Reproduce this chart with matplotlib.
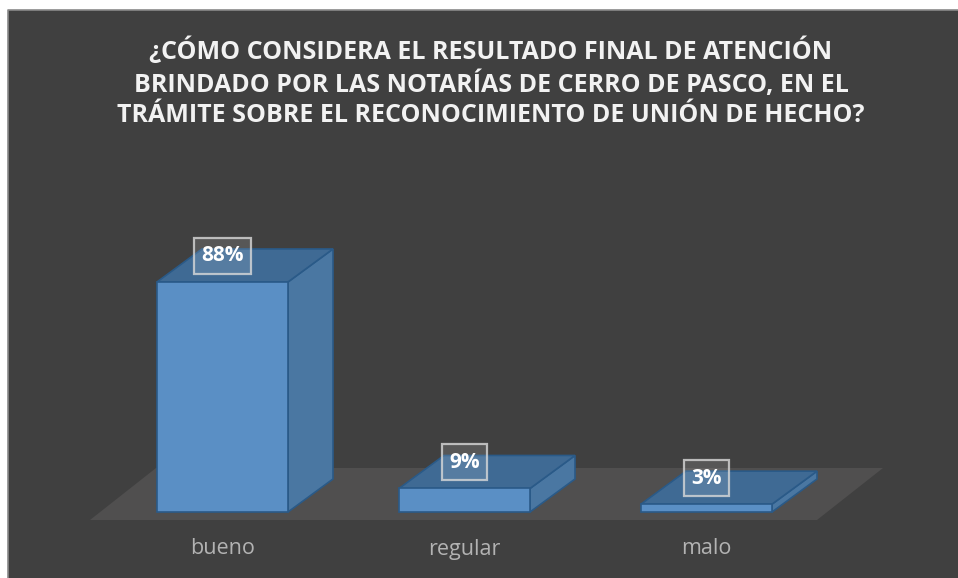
import matplotlib
matplotlib.use("Agg")
import matplotlib.pyplot as plt
from matplotlib.patches import Polygon, Rectangle

categories = ["bueno", "regular", "malo"]
values = [88, 9, 3]
labels = ["88%", "9%", "3%"]
title = ("¿CÓMO CONSIDERA EL RESULTADO FINAL DE ATENCIÓN\n"
         "BRINDADO POR LAS NOTARÍAS DE CERRO DE PASCO, EN EL\n"
         "TRÁMITE SOBRE EL RECONOCIMIENTO DE UNIÓN DE HECHO?")

W, H = 958, 578
fig = plt.figure(figsize=(W / 100, H / 100), dpi=100)
fig.patch.set_facecolor("white")
ax = fig.add_axes([0, 0, 1, 1])
ax.set_facecolor("white")

# scale: x in category units (242 px each), y in percent (2.614 px each)
px_x, px_y = 242.0, 2.614
x0_px, y0_px = 222.5, 512.0  # pixel of (0, 0)
ax.set_xlim(-x0_px / px_x, (W - x0_px) / px_x)
ax.set_ylim(-(H - y0_px) / px_y, y0_px / px_y)
ax.axis("off")

# background panel (border only on left and top, as in the cropped original)
bl, bt = 8 / W, 1 - 10 / H
bg = Rectangle((bl, 0), 1.2 - bl, bt + 0.0, transform=ax.transAxes,
               facecolor="#404040", edgecolor="none", zorder=0, clip_on=False)
ax.add_patch(bg)
ax.plot([bl, bl, 1.0], [0, bt, bt], transform=ax.transAxes, color="#8a8a8a",
        lw=1.2, zorder=0.5, clip_on=False)

# floor
fdx, fdy = 66 / px_x, 52 / px_y
fy = -8 / px_y
fxl, fxr = (90 - x0_px) / px_x, (817 - x0_px) / px_x
floor = Polygon([(fxl, fy), (fxr, fy), (fxr + fdx, fy + fdy), (fxl + fdx, fy + fdy)],
                closed=True, facecolor="#504f4f", edgecolor="none", zorder=1)
ax.add_patch(floor)

# bars
hw = 131 / 2 / px_x
ddx, ddy = 45 / px_x, 33 / px_y
front_c, side_c, top_c, edge_c = "#5a8fc5", "#4a77a2", "#3f6a94", "#2a5a88"
for i, v in enumerate(values):
    xl, xr = i - hw, i + hw
    side = Polygon([(xr, 0), (xr + ddx, ddy), (xr + ddx, v + ddy), (xr, v)],
                   closed=True, facecolor=side_c, edgecolor=edge_c, lw=1.2, zorder=2)
    top = Polygon([(xl, v), (xr, v), (xr + ddx, v + ddy), (xl + ddx, v + ddy)],
                  closed=True, facecolor=top_c, edgecolor=edge_c, lw=1.2, zorder=2)
    front = Rectangle((xl, 0), 2 * hw, v, facecolor=front_c, edgecolor=edge_c,
                      lw=1.2, zorder=3)
    for p in (side, top, front):
        ax.add_patch(p)
    ax.text(i, v + 26 / px_y, labels[i], ha="center", va="center", color="white",
            fontsize=15, fontweight="bold", family="Open Sans", zorder=5,
            bbox=dict(boxstyle="square,pad=0.36", facecolor=(1, 1, 1, 0.12),
                      edgecolor=(0.85, 0.85, 0.85, 0.8), lw=1.6))
    ax.text(i, -(549 - y0_px) / px_y, categories[i], ha="center", va="center",
            color="#b3b3b3", fontsize=15.5, family="Open Sans", zorder=5)

fig.text(491 / W, 1 - 83 / H, title, ha="center", va="center", color="#f2f2f2",
         fontsize=18, fontweight="bold", family="Open Sans", linespacing=1.3,
         multialignment="center")

fig.savefig("out.png", dpi=100, facecolor=fig.get_facecolor())
